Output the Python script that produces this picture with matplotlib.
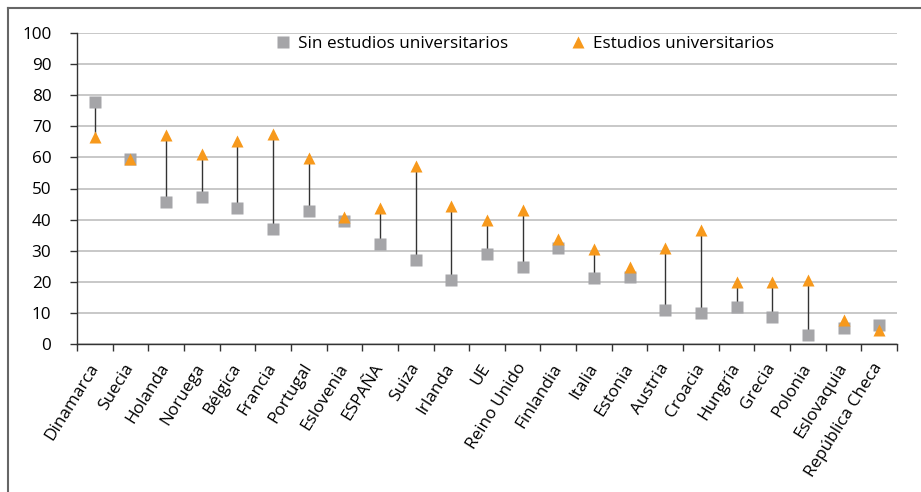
import matplotlib

matplotlib.use("Agg")
import matplotlib.pyplot as plt
import numpy as np
from matplotlib.lines import Line2D

plt.rcParams["font.family"] = ["Open Sans", "DejaVu Sans"]

paises = ["Dinamarca", "Suecia", "Holanda", "Noruega", "Bélgica", "Francia",
          "Portugal", "Eslovenia", "ESPAÑA", "Suiza", "Irlanda", "UE",
          "Reino Unido", "Finlandia", "Italia", "Estonia", "Austria", "Croacia",
          "Hungría", "Grecia", "Polonia", "Eslovaquia", "República Checa"]
sin_univ = [77.8, 59.5, 45.8, 47.2, 43.8, 37.0, 42.8, 39.7, 32.2, 27.0, 20.6, 28.9,
            24.9, 31.0, 21.3, 21.4, 10.9, 10.1, 12.0, 8.8, 2.9, 5.0, 6.1]
con_univ = [66.6, 59.5, 67.2, 61.1, 65.4, 67.5, 59.7, 40.7, 43.6, 57.3, 44.4, 39.9,
            43.1, 33.8, 30.4, 24.7, 30.8, 36.7, 19.8, 19.8, 20.6, 7.7, 4.5]
yticks = list(range(0, 101, 10))

GRAY = "#A5A5A8"
ORANGE = "#F7991C"
FS = 12.3

fig = plt.figure(figsize=(9.21, 4.92), dpi=100)
ax = fig.add_axes([77 / 921, 1 - 344 / 492, 820 / 921, 311 / 492])

x = np.arange(len(paises))
ax.vlines(x, np.minimum(sin_univ, con_univ), np.maximum(sin_univ, con_univ),
          color="#333333", lw=1.0, zorder=2)
ax.plot(x, sin_univ, "s", color=GRAY, ms=9, mec="none", zorder=3)
ax.plot(x, con_univ, "^", color=ORANGE, ms=9, mec="none", zorder=4)

ax.set_xlim(-0.5, len(paises) - 0.5)
ax.set_ylim(0, 100)
ax.set_yticks(yticks)
ax.yaxis.grid(True, color="#BFBFBF", lw=1.2)
ax.set_axisbelow(True)
ax.tick_params(axis="y", length=5, width=1, labelsize=FS, pad=13.5, color="#333333")

# ticks on category boundaries, labels at centres
ax.set_xticks(np.arange(-0.5, len(paises), 1.0))
ax.set_xticklabels([])
ax.set_xticks(x, minor=True)
ax.set_xticklabels(paises, minor=True, rotation=58, ha="right", va="center",
                   rotation_mode="anchor", fontsize=FS)
ax.tick_params(axis="x", which="major", length=5, width=1, color="#333333")
ax.tick_params(axis="x", which="minor", length=0, pad=15)

for side in ["top", "right"]:
    ax.spines[side].set_visible(False)
for side in ["left", "bottom"]:
    ax.spines[side].set_color("#333333")
    ax.spines[side].set_linewidth(1.0)

handles = [Line2D([0], [0], marker="s", color=GRAY, ls="none", ms=9, mec="none",
                  label="Sin estudios universitarios"),
           Line2D([0], [0], marker="^", color=ORANGE, ls="none", ms=9, mec="none",
                  label="Estudios universitarios")]
fig.legend(handles=handles, loc="upper left", ncol=2, frameon=False, fontsize=FS,
           bbox_to_anchor=(274 / 921, 1 - 36 / 492), borderpad=0, borderaxespad=0,
           handlelength=1.0, handletextpad=0.4, columnspacing=3.6)

# outer chart border (only left/top visible)
fig.add_artist(Line2D([8 / 921, 8 / 921], [0, 1 - 8 / 492], color="#666666", lw=1.5,
                      transform=fig.transFigure))
fig.add_artist(Line2D([8 / 921, 1], [1 - 8 / 492, 1 - 8 / 492], color="#666666", lw=1.5,
                      transform=fig.transFigure))

fig.savefig("out.png", dpi=100)
